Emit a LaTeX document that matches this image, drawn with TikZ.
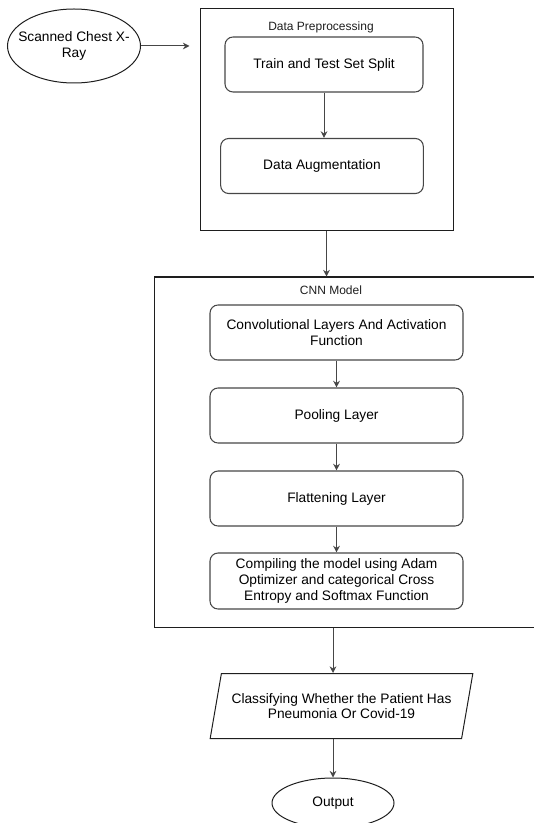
\documentclass[tikz,border=0pt]{standalone}
\usepackage{fontspec}
\setmainfont{Liberation Sans}
\usetikzlibrary{arrows.meta,shapes.geometric,calc}
\definecolor{ink}{RGB}{30,30,30}
\definecolor{edge}{RGB}{70,70,70}
\tikzset{
  >={Stealth[length=5pt,width=5pt]},
  proc/.style={draw=edge,rounded corners=6pt,line width=0.8pt,
    minimum width=#1,minimum height=41.25pt,align=center,
    font=\fontsize{10.3}{11.7}\selectfont,inner sep=0pt},
  proc/.default=148.5pt,
  frame/.style={draw=ink,line width=0.75pt,inner sep=0pt},
  term/.style={ellipse,draw=ink,line width=0.75pt,align=center,
    font=\fontsize{10.3}{11.7}\selectfont},
  slanted/.style={trapezium,trapezium left angle=72,trapezium right angle=108,
    trapezium stretches body,draw=ink,line width=0.75pt,align=center,
    font=\fontsize{10.3}{11.7}\selectfont,inner xsep=0pt,
    minimum width=197pt,minimum height=48.75pt},
  flow/.style={->,line width=0.75pt,draw=#1},
  flow/.default=edge,
  tag/.style={font=\fontsize{9}{10}\selectfont,text=ink},
}
\begin{document}
\begin{tikzpicture}[x=0.75pt,y=-0.75pt]
  \useasboundingbox (0,0) rectangle (534,823);
  \clip (0,0) rectangle (534,823);

  % input
  \node[term,minimum width=99.75pt,minimum height=55.5pt,inner xsep=-8pt,inner ysep=0pt]
    (xray) at (74,46) {Scanned Chest X-\\Ray};

  % preprocessing stage
  \node[frame,minimum width=189.75pt,minimum height=166.5pt] (prep) at (326.5,120) {};
  \node[tag] (preplbl) at (321,27) {Data Preprocessing};
  \node[proc] (split) at (324,64.5) {Train and Test Set Split};
  \node[proc=152pt] (aug) at (322,166) {Data Augmentation};

  % model stage
  \node[frame,minimum width=289.5pt,minimum height=262.5pt] (cnn) at (347,452) {};
  \node[tag] (cnnlbl) at (331,290) {CNN Model};
  \node[proc=189.75pt] (conv) at (336.5,332.5) {Convolutional Layers And Activation\\Function};
  \node[proc=189.75pt] (pool) at (336.5,415.5) {Pooling Layer};
  \node[proc=189.75pt] (flat) at (336.5,498.5) {Flattening Layer};
  \node[proc=189.75pt,minimum height=42pt] (comp) at (336.5,581)
    {Compiling the model using Adam\\Optimizer and categorical Cross\\Entropy and Softmax Function};

  % result
  \node[slanted] (classify) at (341.5,706) {Classifying Whether the Patient Has\\Pneumonia Or Covid-19};
  \node[term,minimum width=91.5pt,minimum height=37.5pt] (out) at (333,803) {Output};

  \draw[flow,shorten >=7.5pt] (xray.east) -- (prep.west |- xray.east);
  \draw[flow] (split) -- (split |- aug.north);
  \draw[flow] (prep.south) -- (prep.south |- cnn.north);
  \draw[flow] (conv) -- (pool);
  \draw[flow] (pool) -- (flat);
  \draw[flow] (flat) -- (comp);
  \draw[flow] (cnn.south -| out) -- (classify.north -| out);
  \draw[flow] (classify.south -| out) -- (out);
\end{tikzpicture}
\end{document}
